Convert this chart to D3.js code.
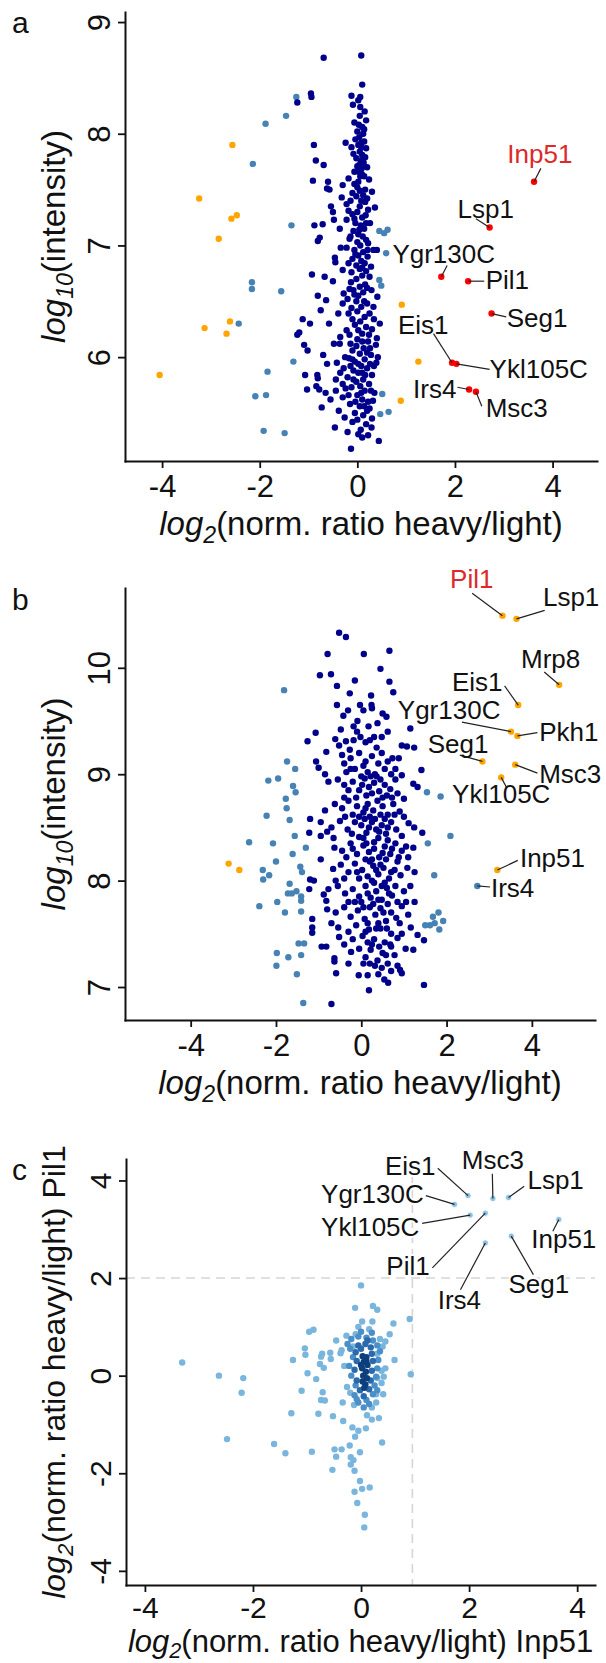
<!DOCTYPE html>
<html lang="en">
<head>
<meta charset="UTF-8">
<title>SILAC ratio scatter panels</title>
<script src="https://d3js.org/d3.v7.min.js"></script>
<style>
  body { margin: 0; background: #fff; }
  svg { display: block; font-family: "Liberation Sans", Arial, sans-serif; }
</style>
</head>
<body>
<svg id="chart" width="606" height="1663"></svg>
<script>
// ---------- panel a: log2 ratio vs log10 intensity ----------
const aNavy = [
  [-0.69,8.68],[0.08,8.70],[0.10,8.44],[-0.95,8.36],[-0.94,8.33],[-1.23,8.28],[-0.12,8.34],[0.06,8.33],
  [-0.09,8.26],[0.06,8.24],[0.02,8.30],[0.05,8.16],[0.18,8.12],[0.03,8.08],[0.10,8.06],[0.00,8.02],
  [0.12,8.00],[0.04,7.97],[-0.04,7.95],[0.14,7.93],[0.02,7.90],[0.08,7.88],[0.18,7.87],[-0.24,7.92],
  [-0.12,7.88],[-0.89,7.90],[-0.85,7.76],[-0.69,7.72],[0.05,7.84],[0.10,7.81],[-0.02,7.78],[0.07,7.76],
  [0.13,7.74],[0.00,7.71],[0.09,7.69],[0.03,7.66],[0.24,7.59],[0.06,7.62],[-0.91,7.58],[-0.60,7.57],
  [-0.62,7.51],[-0.57,7.50],[-0.30,7.54],[-0.06,7.55],[0.02,7.57],[0.09,7.64],[0.05,7.49],[-0.10,7.47],
  [0.12,7.45],[0.20,7.42],[-0.32,7.43],[-0.54,7.35],[-0.50,7.30],[-0.48,7.23],[-0.22,7.37],[-0.18,7.31],
  [-0.10,7.28],[-0.22,7.23],[0.16,7.39],[0.36,7.34],[0.17,7.27],[0.05,7.35],[0.00,7.30],[0.10,7.25],
  [-0.04,7.20],[0.07,7.18],[0.14,7.15],[-0.08,7.13],[0.02,7.10],[0.11,7.08],[-0.88,7.18],[-0.71,7.19],
  [-0.81,7.04],[-0.77,7.07],[-0.34,6.98],[-0.22,6.98],[0.21,6.96],[0.33,6.96],[0.40,6.96],[-0.46,6.89],
  [-0.45,6.85],[0.21,6.90],[0.28,6.81],[0.00,7.03],[0.06,7.00],[-0.06,6.96],[0.12,6.94],[0.02,6.91],
  [-0.10,6.88],[0.08,6.86],[0.15,6.84],[-0.02,6.82],[0.05,6.79],[0.18,6.77],[-0.12,6.76],[0.10,6.73],
  [-0.93,6.74],[-0.67,6.72],[-0.30,6.78],[0.25,6.72],[-0.13,6.67],[-0.16,6.61],[-0.81,6.55],[-0.64,6.51],
  [-0.28,6.57],[-0.06,6.56],[0.29,6.60],[0.41,6.54],[0.05,6.63],[0.12,6.58],[-0.02,6.50],[0.20,6.48],
  [0.08,6.45],[-0.12,6.44],[-0.39,6.39],[-0.18,6.39],[0.25,6.39],[0.00,6.41],[0.15,6.36],[-1.12,6.34],
  [-0.97,6.30],[-1.19,6.22],[-1.23,6.20],[0.06,6.32],[-0.05,6.29],[0.18,6.27],[0.30,6.25],[-0.22,6.24],
  [0.10,6.21],[-0.35,6.18],[0.00,6.16],[0.22,6.14],[0.38,6.11],[-1.09,6.11],[-1.02,6.06],[-0.48,6.12],
  [-0.36,6.12],[-0.70,6.02],[0.40,6.17],[0.42,6.00],[0.13,6.08],[-0.10,6.06],[0.05,6.03],[0.28,6.02],
  [-0.25,6.00],[0.15,5.98],[-0.05,5.96],[-0.62,5.94],[-0.42,5.95],[-0.17,5.99],[0.39,5.95],[0.08,5.92],
  [0.20,5.90],[-0.08,5.88],[0.02,5.86],[0.30,5.84],[-1.07,5.84],[-0.82,5.84],[-0.81,5.81],[-0.35,5.86],
  [-0.20,5.82],[0.12,5.80],[-0.02,5.78],[0.24,5.76],[0.06,5.74],[-0.12,5.73],[-1.03,5.71],[-0.84,5.74],
  [-0.78,5.71],[-0.65,5.68],[-0.44,5.70],[-0.24,5.72],[-0.44,5.80],[0.15,5.70],[0.35,5.68],[0.00,5.66],
  [-0.30,5.64],[0.10,5.62],[0.22,5.60],[-0.73,5.55],[-0.15,5.58],[0.05,5.56],[0.25,5.54],[0.32,5.61],
  [-0.05,5.50],[0.12,5.48],[-0.38,5.52],[-0.26,5.46],[0.30,5.45],[-0.46,5.37],[-0.20,5.33],[-0.13,5.18],
  [0.07,5.35],[0.02,5.31],[0.29,5.37],[0.44,5.25],[0.18,5.40],[-0.10,5.42],[0.10,5.28],[0.20,5.52],
  [-0.02,6.70],[0.16,6.65],[0.33,6.45],[-0.30,6.48],[0.24,6.20],[-0.14,6.12],[0.34,5.92],[-0.28,5.90],
  [0.18,7.05],[-0.16,7.06],[0.26,7.20],[-0.36,7.15],[0.30,7.48],[-0.18,7.60],[0.20,7.70],[0.15,8.20],
  [0.14,8.04],[-0.06,8.10],[0.08,7.92],[-0.08,7.82],[0.16,7.79],[0.04,7.72],[-0.06,7.66],[0.14,7.62],
  [0.00,7.52],[0.16,7.50],[-0.14,7.40],[0.08,7.40],[-0.02,7.44],[0.22,7.32],[-0.06,7.24],[0.18,7.20],
  [0.04,7.14],[-0.14,7.08],[0.22,7.02],[-0.04,6.92],[0.10,6.80],[-0.18,6.84],[0.20,6.62],[-0.08,6.60],
  [0.02,6.55],[0.14,6.50],[-0.20,6.52],[0.34,6.34],[-0.10,6.34],[0.02,6.24],[0.26,6.08],[-0.16,6.20],
  [0.10,6.14],[-0.02,6.10],[0.20,6.04],[-0.10,5.98],[0.02,5.94],[0.26,5.94],[0.10,5.86],[-0.14,5.92],
  [0.16,5.84],[-0.08,5.80],[0.08,5.68],[-0.18,5.66],[0.28,5.70],[-0.04,5.60],[0.14,5.56],[0.00,5.44],
  [0.22,5.30],[-0.30,5.76],[-0.55,5.62],[-0.58,6.30],[-0.75,6.42],[-0.50,6.68],[0.46,6.30]
];
const aSteel = [
  [-1.25,8.33],[-1.46,8.16],[-1.88,8.09],[-2.14,7.73],[-1.35,7.18],[0.45,7.13],[0.55,7.11],[0.62,7.14],
  [0.59,6.93],[0.45,6.69],[0.49,6.64],[-2.16,6.67],[-2.16,6.61],[-1.56,6.59],[-2.43,6.30],[-1.31,5.96],
  [-1.84,5.87],[-1.87,5.66],[-2.09,5.65],[0.51,5.67],[0.64,5.51],[0.47,5.49],[-1.92,5.34],[-1.49,5.32]
];
const aOrange = [
  [-2.56,7.90],[-3.24,7.42],[-2.58,7.24],[-2.47,7.27],[-2.84,7.06],[0.91,6.47],[-2.61,6.32],[-3.13,6.26],
  [-2.68,6.21],[1.25,5.96],[-4.05,5.84],[0.89,5.61]
];
const aHitNames = ["Inp51","Lsp1","Ygr130C","Pil1","Seg1","Eis1","Ykl105C","Irs4","Msc3"];
const aHitX = [3.62, 2.71, 1.72, 2.27, 2.75, 1.94, 2.03, 2.29, 2.43];
const aHitY = [7.57, 7.16, 6.72, 6.68, 6.39, 5.95, 5.94, 5.71, 5.69];

// ---------- panel b ----------
const bNavy = [
  [-0.52,10.33],[-0.36,10.29],[-0.79,10.13],[0.06,10.13],[0.66,10.16],[-0.97,9.93],[-0.71,9.94],[0.45,9.99],
  [-0.57,9.83],[-0.15,9.88],[0.66,9.87],[-0.27,9.76],[0.23,9.74],[0.75,9.77],[-0.57,9.65],[-0.31,9.60],
  [-0.03,9.65],[0.24,9.65],[0.25,9.62],[0.50,9.57],[0.59,9.54],[-0.09,9.50],[-0.18,9.45],[0.17,9.45],
  [-0.48,9.42],[-1.07,9.39],[-1.26,9.31],[1.15,9.43],[-0.61,9.33],[-0.52,9.27],[-0.36,9.31],[-0.27,9.23],
  [-0.18,9.32],[-0.02,9.35],[0.20,9.32],[0.36,9.25],[0.95,9.27],[1.07,9.26],[1.24,9.25],[-0.82,9.21],
  [0.73,9.15],[0.88,9.15],[1.41,9.04],[-1.06,9.12],[-1.00,9.06],[-0.77,8.93],[0.95,8.99],[1.22,8.91],
  [1.32,8.88],[1.00,8.77],[-1.20,8.58],[0.38,9.48],[-0.42,9.55],[0.05,9.60],
  [-0.45,9.18],[-0.25,9.15],[-0.05,9.20],[0.10,9.12],[0.25,9.17],[0.40,9.10],[0.55,9.05],[0.15,9.02],
  [-0.15,9.05],[0.32,9.00],[0.05,9.08],[-0.35,9.02],[0.62,9.12],[0.48,9.20],
  [-0.55,8.95],[-0.40,8.90],[-0.20,8.93],[-0.05,8.85],[0.08,8.96],[0.18,8.88],[0.30,8.92],[0.42,8.84],
  [0.55,8.90],[0.68,8.86],[0.80,8.95],[0.12,8.80],[0.25,8.82],[-0.12,8.78],[0.36,8.98],[0.60,8.80],
  [0.85,8.82],[0.02,8.90],[0.22,8.98],
  [-0.62,8.72],[-0.45,8.68],[-0.30,8.75],[-0.10,8.70],[0.05,8.64],[0.15,8.72],[0.28,8.66],[0.38,8.75],
  [0.50,8.70],[0.62,8.62],[0.75,8.72],[0.90,8.65],[-0.20,8.62],[0.20,8.60],[0.45,8.62],[-0.85,8.66],
  [-0.95,8.55],[-0.70,8.50],[-0.50,8.56],[-0.32,8.48],[-0.15,8.55],[0.00,8.52],[0.12,8.45],[0.25,8.55],
  [0.35,8.48],[0.48,8.52],[0.58,8.44],[0.70,8.55],[0.82,8.48],[0.95,8.42],[1.11,8.54],[1.24,8.50],
  [1.43,8.45],[-1.22,8.45],[-0.95,8.42],[-0.80,8.46],[0.08,8.58],[0.40,8.40],[-0.05,8.41],
  [-0.63,8.31],[-0.45,8.28],[-0.25,8.35],[-0.10,8.25],[0.05,8.33],[0.18,8.27],[0.30,8.36],[0.42,8.22],
  [0.55,8.32],[0.68,8.25],[0.80,8.35],[0.95,8.28],[1.22,8.31],[1.05,8.32],[-0.35,8.22],[0.25,8.20],[0.62,8.38],
  [-0.66,8.11],[-0.48,8.15],[-0.30,8.08],[-0.15,8.16],[0.02,8.10],[0.15,8.04],[0.28,8.14],[0.40,8.06],
  [0.52,8.12],[0.65,8.02],[0.78,8.10],[0.92,8.05],[1.08,8.12],[1.25,8.08],[-1.20,8.01],[-1.11,8.00],
  [0.20,8.18],[0.85,8.18],[-0.05,8.02],
  [-1.22,7.92],[-0.77,7.92],[-0.88,7.87],[-0.82,7.81],[-0.55,7.95],[-0.38,7.88],[-0.20,7.92],[-0.05,7.85],
  [0.10,7.95],[0.22,7.84],[0.35,7.90],[0.48,7.82],[0.60,7.93],[0.72,7.86],[0.85,7.80],[1.00,7.90],
  [1.15,7.95],[0.30,7.98],[0.00,7.80],[0.55,7.98],
  [-0.80,7.73],[-1.15,7.64],[-0.60,7.70],[-0.40,7.75],[-0.25,7.66],[-0.08,7.72],[0.08,7.64],[0.20,7.75],
  [0.33,7.68],[0.45,7.74],[0.58,7.62],[0.70,7.70],[0.82,7.65],[0.95,7.76],[1.10,7.68],[0.15,7.60],[0.40,7.60],
  [-1.15,7.56],[-1.15,7.51],[-0.54,7.56],[-0.52,7.47],[-0.30,7.52],[-0.12,7.58],[0.03,7.48],[0.18,7.54],
  [0.30,7.45],[0.45,7.55],[0.55,7.42],[0.70,7.50],[0.85,7.46],[1.16,7.56],[1.32,7.49],[1.47,7.44],[0.25,7.40],
  [-0.93,7.38],[-0.82,7.38],[-0.63,7.27],[-0.63,7.24],[-0.24,7.33],[-0.05,7.36],[0.10,7.28],[0.22,7.35],
  [0.38,7.25],[0.50,7.32],[0.62,7.22],[0.78,7.30],[1.04,7.36],[1.22,7.35],[0.32,7.20],[0.48,7.18],
  [-0.59,7.13],[-0.06,7.11],[0.15,7.11],[0.91,7.16],[0.95,7.13],[0.54,7.07],[0.63,7.04],[1.47,7.02],
  [0.18,6.97],[-0.70,6.84],[0.40,7.12],[0.70,7.15],
  [-0.25,9.05],[0.00,8.98],[0.45,8.95],[0.70,9.00],[-0.30,8.85],[0.50,8.78],[0.72,8.78],[-0.40,8.78],
  [0.10,8.68],[0.32,8.58],[0.55,8.58],[-0.05,8.60],[-0.38,8.60],[0.78,8.62],[0.18,8.50],[0.42,8.46],
  [0.62,8.50],[-0.22,8.44],[0.05,8.40],[0.30,8.30],[0.50,8.26],[0.12,8.35],[-0.20,8.30],[0.72,8.30],
  [0.88,8.22],[0.35,8.10],[0.58,8.20],[0.10,8.20],[-0.10,8.08],[0.45,8.15],[0.70,8.08],[-0.40,8.02],
  [0.25,8.00],[0.48,7.95],[0.65,7.88],[0.15,7.88],[-0.15,7.80],[0.40,7.82],[0.80,7.95],[0.28,7.78],
  [0.52,7.70],[0.05,7.75],[-0.30,7.80],[0.62,7.78],[0.90,7.60],[0.35,7.55],[0.60,7.55],[0.10,7.52],
  [-0.20,7.45],[0.42,7.38],[0.70,7.38],[0.15,7.42],[-0.40,7.40],[0.95,7.50],[0.58,7.30],[0.20,7.22],
  [0.85,7.20],[-0.30,7.22],[0.05,7.22],[0.68,7.40],[0.30,9.35],[0.10,9.30],[-0.10,9.40],[0.48,9.35],
  [0.62,9.40],[-0.40,9.10],[0.80,9.05],[1.00,8.60],[1.10,8.22],[1.05,7.80],[-0.65,8.40],[-0.60,8.00],
  [-0.70,7.60],[-0.95,8.20],[1.25,7.80],[-0.85,9.00]
];
const bSteel = [
  [-1.81,9.79],[-1.74,9.12],[-1.55,9.05],[-2.18,8.94],[-1.95,8.96],[-1.60,8.89],[-1.54,8.83],[-1.77,8.77],
  [1.54,8.83],[1.86,8.79],[-2.22,8.61],[-1.75,8.68],[-1.68,8.57],[-1.56,8.42],[-2.63,8.36],[-2.07,8.35],
  [-1.30,8.31],[-1.61,8.25],[-2.00,8.18],[-1.43,8.13],[-1.39,8.08],[-2.31,8.10],[-2.30,8.01],[-2.16,8.05],
  [-1.68,7.97],[-1.72,7.88],[-1.63,7.88],[-1.52,7.90],[-1.41,7.85],[-1.41,7.81],[-1.97,7.80],[-2.39,7.76],
  [-1.79,7.70],[-1.41,7.71],[2.09,8.42],[1.56,8.35],[1.71,8.05],[1.81,7.70],[1.68,7.66],[1.92,7.62],
  [1.72,7.60],[1.61,7.58],[1.50,7.58],[1.83,7.54],[-1.47,7.41],[-1.34,7.41],[-1.98,7.32],[-1.71,7.28],
  [-1.41,7.30],[-1.99,7.20],[-1.51,7.12],[-1.36,6.85]
];
const bOrange = [[-3.11,8.16],[-2.86,8.10]];
const bHitNames = ["Pil1","Lsp1","Mrp8","Eis1","Ygr130C","Pkh1","Seg1","Msc3","Ykl105C","Inp51","Irs4"];
const bHitX = [3.31, 3.64, 4.64, 3.68, 3.51, 3.66, 2.84, 3.61, 3.28, 3.19, 2.72];
const bHitY = [10.49, 10.46, 9.84, 9.65, 9.40, 9.36, 9.12, 9.09, 8.97, 8.10, 7.95];
const bHitGroup = ["orange","orange","orange","orange","orange","orange","orange","orange","orange","orange","steel"];

// ---------- panel c: Inp51 vs Pil1 ratios, third value = density level ----------
const cPoints = [
  [0,1.85,0],[-0.11,1.39,0],[0.22,1.43,0],[0.30,1.35,0],[0.02,1.11,0],[0.21,1.11,0],[0.90,1.16,0],[0.60,1.07,0],
  [-0.96,0.90,0],[-0.88,0.94,0],[-0.27,0.82,0],[-0.46,0.72,0],[-0.36,0.52,0],[-0.72,0.45,0],[-0.57,0.47,0],
  [-1.03,0.43,0],[0.53,0.85,0],[-3.31,0.27,0],[-2.63,0,0],[-2.18,-0.05,0],[-2.21,-0.35,0],[-2.48,-1.30,0],
  [-1.04,0.56,0],[-1.26,0.32,0],[-0.74,0.39,0],[-0.76,0.24,0],[-0.69,0.16,0],[-0.56,0.34,0],[-0.38,0.46,0],
  [-0.31,0.20,0],[-0.99,0.05,0],[-0.83,-0.07,0],[-1.10,-0.31,0],[-0.71,-0.34,0],[-0.74,-0.50,0],[-0.67,-0.51,0],
  [-0.34,-0.55,0],[-1.29,-0.77,0],[-0.79,-0.78,0],[-0.52,-0.83,0],[-0.33,-0.93,0],[-0.26,-0.23,0],[0.62,0.32,0],
  [0.92,0.03,0],[0.28,-0.38,0],[0.41,-0.38,0],[0.33,-0.87,0],[0.11,-0.81,0],[-0.16,-1.06,0],[-0.05,-1.13,0],
  [-0.11,-1.25,0],[0.09,-1.08,0],[0.39,-1.37,0],[-1.61,-1.40,0],[-1.40,-1.59,0],[-0.91,-1.56,0],[-0.49,-1.51,0],
  [-0.36,-1.51,0],[-0.46,-1.66,0],[-0.21,-1.43,0],[-0.02,-1.57,0],[-0.19,-1.67,0],[-0.14,-1.73,0],[-0.19,-1.82,0],
  [-0.53,-1.93,0],[-0.12,-1.95,0],[-0.02,-2.16,0],[0.02,-2.32,0],[0.16,-2.29,0],[-0.12,-2.38,0],[-0.07,-2.61,0],
  [0.07,-2.85,0],[0.06,-3.11,0],[0.40,0.60,0],[0.45,0.70,0],[0.35,0.75,0],[-0.15,0.60,0],[0.30,-0.05,0],
  [0.38,-0.15,0],[0.38,0.10,0],[-0.13,-0.60,0],[0.20,-0.65,0],[0.28,-0.55,0],[0.30,0.45,0],[-0.10,0.85,0],
  [0.15,0.95,0],[0.45,0.15,0],[0.20,-0.90,0],[-0.20,-0.35,0],[0.42,-0.02,0],[-0.05,1.00,0],
  [-0.18,0.75,1],[-0.05,0.80,1],[0.10,0.78,1],[0.22,0.72,1],[0.30,0.62,1],[-0.20,0.55,1],[0.35,0.50,1],
  [-0.15,0.38,1],[0.32,0.32,1],[-0.22,0.20,1],[0.30,0.15,1],[-0.18,0.00,1],[0.28,-0.02,1],[-0.10,-0.20,1],
  [0.25,-0.20,1],[-0.12,-0.40,1],[0.22,-0.38,1],[-0.05,-0.55,1],[0.15,-0.58,1],[0.05,-0.65,1],[0.30,-0.30,1],
  [-0.25,0.65,1],[0.00,0.90,1],[0.20,0.88,1],[-0.08,-0.48,1],[0.10,-0.50,1],
  [-0.05,0.62,2],[0.08,0.65,2],[0.18,0.58,2],[-0.10,0.48,2],[0.20,0.45,2],[-0.08,0.30,2],[0.22,0.30,2],
  [-0.12,0.12,2],[0.20,0.10,2],[-0.08,-0.10,2],[0.18,-0.10,2],[-0.02,-0.30,2],[0.15,-0.28,2],[0.05,-0.42,2],
  [0.12,0.72,2],[0.00,0.55,2],
  [0.03,0.40,3],[0.10,0.38,3],[0.05,0.28,3],[0.12,0.22,3],[0.02,0.15,3],[0.09,0.08,3],[0.04,0.00,3],
  [0.11,-0.05,3],[0.03,-0.12,3],[0.08,-0.18,3],[0.06,-0.25,3],[0.10,0.30,3],[0.00,0.22,3]
];
const cHitNames = ["Eis1","Msc3","Lsp1","Ygr130C","Ykl105C","Pil1","Irs4","Inp51","Seg1"];
const cHitX = [1.98, 2.44, 2.73, 1.73, 2.02, 2.30, 2.30, 3.66, 2.78];
const cHitY = [3.69, 3.63, 3.65, 3.51, 3.29, 3.33, 2.72, 3.20, 2.86];
const cCutX = 0.95, cCutY = 2;

const xTicks = [-4, -2, 0, 2, 4];

// label placement in data units: text x, text baseline y, anchor, leader end x, leader end y
const labelLayoutA = {
  Inp51: [3.74, 7.74, "middle", 3.76, 7.69], Lsp1: [2.63, 7.25, "middle", 2.43, 7.24],
  Ygr130C: [1.77, 6.84, "middle", 1.84, 6.82], Pil1: [2.63, 6.61, "start", 2.60, 6.68],
  Seg1: [3.06, 6.27, "start", 3.05, 6.36], Eis1: [1.35, 6.21, "middle", 1.56, 6.21],
  Ykl105C: [2.71, 5.81, "start", 2.71, 5.89], Irs4: [2.03, 5.63, "end", 2.05, 5.73],
  Msc3: [2.63, 5.46, "start", 2.55, 5.56]
};
const labelLayoutB = {
  Pil1: [2.59, 10.75, "middle", 2.60, 10.70], Lsp1: [4.26, 10.58, "start", 4.30, 10.54],
  Mrp8: [4.44, 10.00, "middle", 4.29, 9.96], Eis1: [2.72, 9.785, "middle", 3.36, 9.83],
  Ygr130C: [2.06, 9.515, "middle", 2.36, 9.49], Pkh1: [4.17, 9.31, "start", 4.13, 9.39],
  Seg1: [2.27, 9.20, "middle", 2.31, 9.18], Msc3: [4.17, 8.92, "start", 4.13, 9.01],
  Ykl105C: [2.13, 8.73, "start", 3.40, 8.88], Inp51: [3.72, 8.13, "start", 3.67, 8.19],
  Irs4: [3.04, 7.85, "start", 3.02, 7.94]
};
const labelLayoutC = {
  Eis1: [0.91, 4.12, "middle", 1.42, 4.25], Msc3: [2.44, 4.23, "middle", 2.43, 4.14],
  Lsp1: [3.08, 3.82, "start", 3.02, 3.88], Ygr130C: [0.21, 3.54, "middle", 1.20, 3.69],
  Ykl105C: [0.17, 2.86, "middle", 1.13, 3.12], Pil1: [0.87, 2.07, "middle", 1.32, 2.21],
  Irs4: [1.82, 1.37, "middle", 1.84, 1.76], Inp51: [3.15, 2.62, "start", 3.55, 2.96],
  Seg1: [3.29, 1.70, "middle", 3.19, 2.07]
};

const colors = { navy: "#00008b", steel: "#4682b4", orange: "#ffa500", red: "#ff0000", hiText: "#dc2a2a" };
const densityColors = ["#79b5dc", "#4a8fc8", "#2a6aac", "#0d3f7e"];

const svg = d3.select("#chart");
const tickFont = 31, labelFont = 26, titleFont = 33;

function axes(g, x, y, box, yTicks, labelGap, fontSize) {
  const xa = g.append("g").attr("transform", `translate(0,${box.bottom})`)
    .call(d3.axisBottom(x).tickValues(xTicks).tickSize(7).tickSizeOuter(0).tickFormat(d => String(d)));
  const ya = g.append("g").attr("transform", `translate(${box.left},0)`)
    .call(d3.axisLeft(y).tickValues(yTicks).tickSize(7).tickSizeOuter(0).tickFormat(d => String(d)));
  [xa, ya].forEach(a => {
    a.attr("font-family", null).attr("font-size", null);
    a.select(".domain").attr("stroke", "#111").attr("stroke-width", 2).attr("stroke-linecap", "square");
    a.selectAll(".tick line").attr("stroke", "#111").attr("stroke-width", 1.8);
    a.selectAll(".tick text").attr("fill", "#111").style("font-size", (fontSize || tickFont) + "px");
  });
  xa.selectAll(".tick text").attr("y", labelGap).attr("dy", 0);
  ya.selectAll(".tick text").attr("transform", "rotate(-90)")
    .attr("x", 0).attr("y", -15).attr("dy", 0).attr("text-anchor", "middle");
}

function logTitle(g, sub, rest, tx, ty, rotate, size, drop) {
  const d = drop || 8;
  const t = g.append("text").attr("fill", "#111").style("font-size", (size || titleFont) + "px")
    .attr("text-anchor", "middle")
    .attr("transform", `translate(${tx},${ty})` + (rotate ? " rotate(-90)" : ""));
  t.append("tspan").attr("font-style", "italic").text("log");
  t.append("tspan").attr("font-style", "italic").attr("font-size", "70%").attr("dy", d).text(sub);
  t.append("tspan").attr("dy", -d).text(rest);
}

function dots(g, x, y, data, fill) {
  g.append("g").selectAll("circle").data(data).join("circle")
    .attr("cx", d => x(d[0])).attr("cy", d => y(d[1])).attr("r", 3.2)
    .attr("fill", typeof fill === "function" ? fill : () => fill);
}

function hitLabels(g, x, y, names, hx, hy, layout, hiName, halo) {
  names.forEach((n, i) => {
    const L = layout[n];
    g.append("line")
      .attr("x1", x(hx[i])).attr("y1", y(hy[i])).attr("x2", x(L[3])).attr("y2", y(L[4]))
      .attr("stroke", "#222").attr("stroke-width", 1.2);
    const t = g.append("text").attr("x", x(L[0])).attr("y", y(L[1]))
      .attr("text-anchor", L[2]).style("font-size", labelFont + "px")
      .attr("fill", n === hiName ? colors.hiText : "#111").text(n);
    if (halo) t.attr("stroke", "#fff").attr("stroke-width", 4).attr("paint-order", "stroke");
  });
}

function panelLetter(txt, yb) {
  svg.append("text").attr("x", 12).attr("y", yb).style("font-size", "30px").attr("fill", "#111").text(txt);
}

// ----- panel a -----
{
  const box = { left: 125, right: 597, top: 12, bottom: 461 };
  const x = d3.scaleLinear().domain([-4.76, 4.91]).range([box.left, box.right]);
  const y = d3.scaleLinear().domain([5.07, 9.09]).range([box.bottom, box.top]);
  const g = svg.append("g");
  dots(g, x, y, aSteel, colors.steel);
  dots(g, x, y, aNavy, colors.navy);
  dots(g, x, y, aOrange, colors.orange);
  dots(g, x, y, aHitX.map((v, i) => [v, aHitY[i]]), colors.red);
  hitLabels(g, x, y, aHitNames, aHitX, aHitY, labelLayoutA, "Inp51", false);
  axes(g, x, y, box, [6, 7, 8, 9], 36);
  logTitle(g, "2", "(norm. ratio heavy/light)", (box.left + box.right) / 2, 535, false);
  logTitle(g, "10", "(intensity)", 65, (box.top + box.bottom) / 2, true);
  panelLetter("a", 33);
}

// ----- panel b -----
{
  const box = { left: 125, right: 595, top: 588, bottom: 1020 };
  const x = d3.scaleLinear().domain([-5.54, 5.48]).range([box.left, box.right]);
  const y = d3.scaleLinear().domain([6.69, 10.75]).range([box.bottom, box.top]);
  const g = svg.append("g");
  dots(g, x, y, bSteel, colors.steel);
  dots(g, x, y, bNavy, colors.navy);
  dots(g, x, y, bOrange, colors.orange);
  dots(g, x, y, bHitX.map((v, i) => [v, bHitY[i], bHitGroup[i]]), d => colors[d[2]]);
  hitLabels(g, x, y, bHitNames, bHitX, bHitY, labelLayoutB, "Pil1", false);
  axes(g, x, y, box, [7, 8, 9, 10], 36);
  logTitle(g, "2", "(norm. ratio heavy/light)", (box.left + box.right) / 2, 1094, false);
  logTitle(g, "10", "(intensity)", 65, (box.top + box.bottom) / 2, true);
  panelLetter("b", 610);
}

// ----- panel c -----
{
  const box = { left: 126, right: 595, top: 1159, bottom: 1585 };
  const x = d3.scaleLinear().domain([-4.35, 4.33]).range([box.left, box.right]);
  const y = d3.scaleLinear().domain([-4.29, 4.44]).range([box.bottom, box.top]);
  const g = svg.append("g");
  g.append("line").attr("x1", box.left).attr("x2", box.right).attr("y1", y(cCutY)).attr("y2", y(cCutY))
    .attr("stroke", "#d6d6d6").attr("stroke-width", 1.6).attr("stroke-dasharray", "9,6");
  g.append("line").attr("x1", x(cCutX)).attr("x2", x(cCutX)).attr("y1", box.top).attr("y2", box.bottom)
    .attr("stroke", "#d6d6d6").attr("stroke-width", 1.6).attr("stroke-dasharray", "9,6");
  dots(g, x, y, cPoints, d => densityColors[d[2]]);
  g.append("g").selectAll("circle").data(cHitX.map((v, i) => [v, cHitY[i]])).join("circle")
    .attr("cx", d => x(d[0])).attr("cy", d => y(d[1])).attr("r", 3.2)
    .attr("fill", "#8fc3e4").attr("stroke", "#fff").attr("stroke-width", 1);
  hitLabels(g, x, y, cHitNames, cHitX, cHitY, labelLayoutC, null, true);
  axes(g, x, y, box, [-4, -2, 0, 2, 4], 33, 30);
  logTitle(g, "2", "(norm. ratio heavy/light) Inp51", (box.left + box.right) / 2, 1652, false, 31, 6);
  logTitle(g, "2", "(norm. ratio heavy/light) Pil1", 65, (box.top + box.bottom) / 2, true, 32);
  panelLetter("c", 1180);
}
</script>
</body>
</html>
